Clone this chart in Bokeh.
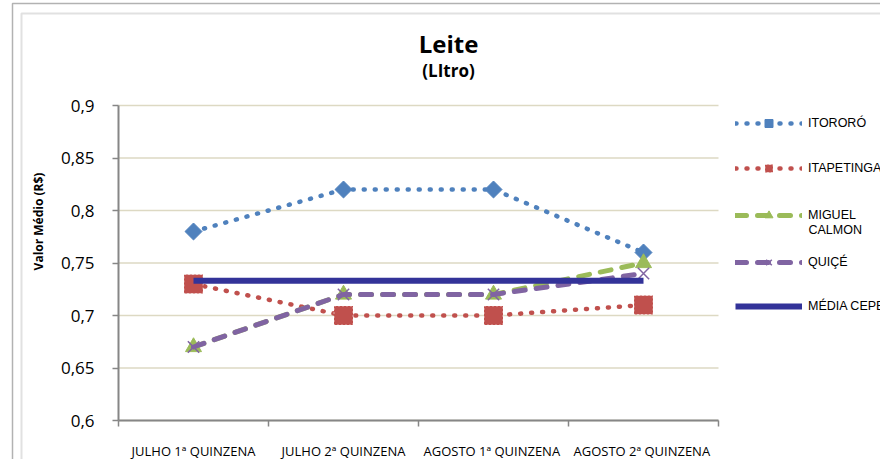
import math
from bokeh.plotting import figure
from bokeh.models import (Range1d, FixedTicker, Legend, LegendItem, Label, BoxAnnotation)
from bokeh.embed import file_html
from bokeh.resources import INLINE
from bokeh.core.properties import value

# ---------------- data ----------------
categories = ["JULHO 1ª QUINZENA", "JULHO 2ª QUINZENA", "AGOSTO  1ª QUINZENA", "AGOSTO  2ª QUINZENA"]
itororo = [0.78, 0.82, 0.82, 0.76]
itapetinga = [0.73, 0.70, 0.70, 0.71]
miguel_calmon = [0.67, 0.72, 0.72, 0.75]
quice = [0.67, 0.72, 0.72, 0.74]
media_cepea = [0.733, 0.733, 0.733, 0.733]
y_ticks = [0.6, 0.65, 0.7, 0.75, 0.8, 0.85, 0.9]
y_tick_labels = ["0,6", "0,65", "0,7", "0,75", "0,8", "0,85", "0,9"]

# ---------------- styles / layout ----------------
BLUE = "#4F81BD"
RED = "#C0504D"
GREEN = "#9BBB59"
PURPLE = "#8064A2"
NAVY = "#333399"
AXIS = "#868686"
GRID = "#DDD9C3"

W, H = 880, 459
PX_LEFT = 118      # pixel of the plot area's left edge
PX_CAT = 150       # pixels per category
PY_TOP = 105       # pixel of the top of the value axis
PY_BOTTOM = 420    # pixel of the bottom of the value axis

n = len(categories)
xs = [i + 0.5 for i in range(n)]
y_min, y_max = y_ticks[0], y_ticks[-1]
ypp = (y_max - y_min) / (PY_BOTTOM - PY_TOP)

p = figure(width=W, height=H, output_backend="svg", toolbar_location=None,
           x_range=Range1d(-PX_LEFT / PX_CAT, (W - PX_LEFT) / PX_CAT),
           y_range=Range1d(y_min - (H - PY_BOTTOM) * ypp, y_max + PY_TOP * ypp),
           min_border=0)
p.outline_line_color = None
p.background_fill_color = "white"
p.border_fill_color = "white"

# y axis, drawn inside the canvas at the category origin
p.yaxis.fixed_location = 0
p.yaxis.bounds = (y_min, y_max)
p.yaxis.ticker = FixedTicker(ticks=y_ticks, minor_ticks=[])
p.yaxis.major_label_overrides = dict(zip(y_ticks, y_tick_labels))
p.yaxis.axis_line_color = AXIS
p.yaxis.axis_line_width = 2
p.yaxis.major_tick_line_color = AXIS
p.yaxis.major_tick_line_width = 1.5
p.yaxis.major_tick_out = 6
p.yaxis.major_tick_in = 0
p.yaxis.minor_tick_line_color = None
p.yaxis.major_label_standoff = 18
p.yaxis.major_label_text_font = "Open Sans"
p.yaxis.major_label_text_font_size = "17px"
p.yaxis.major_label_text_color = "black"

# x axis (ticks at category boundaries, labels at centers)
p.xaxis.fixed_location = y_min
p.xaxis.bounds = (0, n)
p.xaxis.ticker = FixedTicker(ticks=xs, minor_ticks=list(range(n + 1)))
p.xaxis.major_label_overrides = dict(zip(xs, categories))
p.xaxis.axis_line_color = AXIS
p.xaxis.axis_line_width = 2
p.xaxis.major_tick_line_color = None
p.xaxis.major_tick_out = 0
p.xaxis.major_tick_in = 0
p.xaxis.minor_tick_line_color = AXIS
p.xaxis.minor_tick_line_width = 1.5
p.xaxis.minor_tick_out = 6
p.xaxis.minor_tick_in = 0
p.xaxis.major_label_standoff = 15
p.xaxis.major_label_text_font = "Open Sans"
p.xaxis.major_label_text_font_size = "13px"
p.xaxis.major_label_text_color = "black"

p.xgrid.grid_line_color = None
p.ygrid.grid_line_color = None

# horizontal gridlines limited to the plot area
p.segment(x0=[0] * len(y_ticks), x1=[n] * len(y_ticks), y0=y_ticks, y1=y_ticks,
          line_color=GRID, line_width=1.5)

# ---------------- series ----------------
l1 = p.line(xs, itororo, line_color=BLUE, line_width=4.5, line_dash="1 10", line_cap="round")
s1 = p.scatter(xs, itororo, marker="square", size=12, angle=math.pi / 4,
               fill_color=BLUE, line_color=BLUE)

l2 = p.line(xs, itapetinga, line_color=RED, line_width=4.5, line_dash="1 10", line_cap="round")
s2 = p.scatter(xs, itapetinga, marker="square", size=19, fill_color=RED,
               line_color="white", line_alpha=0.5, line_dash="2 2", line_width=1)

l3 = p.line(xs, miguel_calmon, line_color=GREEN, line_width=5, line_dash="11 11", line_cap="round")
s3 = p.scatter(xs, miguel_calmon, marker="triangle", size=16, fill_color=GREEN, line_color=GREEN)

l4 = p.line(xs, quice, line_color=PURPLE, line_width=5, line_dash="11 11", line_cap="round")
s4 = p.scatter(xs, quice, marker="x", size=16, line_color=PURPLE, line_width=1.5)

l5 = p.line(xs, media_cepea, line_color=NAVY, line_width=6)

# ---------------- legend (one box per entry) ----------------
legend_entries = [
    ("ITORORÓ", [l1, s1]),
    ("ITAPETINGA", [l2, s2]),
    ("MIGUEL", [l3, s3]),
    ("QUIÇÉ", [l4, s4]),
    ("MÉDIA CEPEA", [l5]),
]
legend_centers_px = [123, 168, 215, 262, 306]
LEG_X = 735
GLYPH_W, GLYPH_H, STANDOFF = 67, 20, 6
for (name, rends), cy in zip(legend_entries, legend_centers_px):
    leg = Legend(items=[LegendItem(label=value(name), renderers=rends)],
                 location=(LEG_X, H - (cy + GLYPH_H / 2)), padding=0, margin=0, spacing=0,
                 glyph_width=GLYPH_W, glyph_height=GLYPH_H, label_height=GLYPH_H,
                 label_standoff=STANDOFF,
                 border_line_color=None, background_fill_alpha=0,
                 label_text_font="Liberation Sans", label_text_font_size="12.5px",
                 label_text_color="black")
    p.add_layout(leg)

p.add_layout(Label(x=LEG_X + GLYPH_W + STANDOFF, y=H - 229, x_units="screen", y_units="screen",
                   text="CALMON", text_font="Liberation Sans", text_font_size="12.5px",
                   text_align="left", text_baseline="middle", text_color="black"))

# ---------------- titles ----------------
p.add_layout(Label(x=448, y=H - 43, x_units="screen", y_units="screen", text="Leite",
                   text_font="Open Sans", text_font_style="bold", text_font_size="24px",
                   text_align="center", text_baseline="middle", text_color="black"))
p.add_layout(Label(x=448, y=H - 70, x_units="screen", y_units="screen", text="(LItro)",
                   text_font="Open Sans", text_font_style="bold", text_font_size="17px",
                   text_align="center", text_baseline="middle", text_color="black"))
p.add_layout(Label(x=38, y=H - 221, x_units="screen", y_units="screen", text="Valor Médio (R$)",
                   angle=math.pi / 2, text_font="Open Sans", text_font_style="bold",
                   text_font_size="12px", text_align="center", text_baseline="middle",
                   text_color="black"))

# ---------------- chart borders ----------------
p.add_layout(BoxAnnotation(left=12, right=W + 50, top=H - 3, bottom=-50,
                           left_units="screen", right_units="screen",
                           top_units="screen", bottom_units="screen",
                           fill_alpha=0, line_color="black", line_width=1.5))
p.add_layout(BoxAnnotation(left=21, right=W + 40, top=H - 13, bottom=-40,
                           left_units="screen", right_units="screen",
                           top_units="screen", bottom_units="screen",
                           fill_alpha=0, line_color="#9A9A9A", line_width=2))

open("out.html", "w").write(file_html(p, INLINE))
